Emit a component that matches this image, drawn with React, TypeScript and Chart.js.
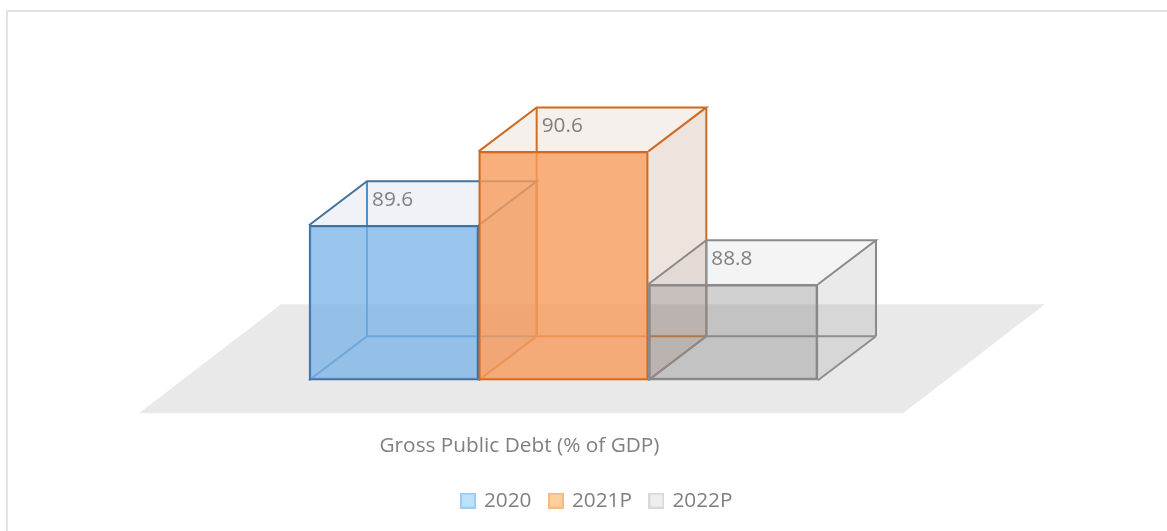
import React, { useEffect, useRef } from "react";
import { Chart, registerables } from "chart.js";

Chart.register(...registerables);

const categories = ["Gross Public Debt (% of GDP)"];
const seriesNames = ["2020", "2021P", "2022P"];
const values2020 = [89.6];
const values2021P = [90.6];
const values2022P = [88.8];
const AXIS_MIN = 87.5;
const AXIS_MAX = 91.5;

const FONT = '"Open Sans", sans-serif';
const FONT_SIZE = 20.8;
const TEXT = "#808080";
const DEPTH_X = 58;
const DEPTH_Y = 44;

const looks = [
  { front: "rgba(118,178,232,0.70)", tint: "rgba(120,150,180,0.12)", edge: "#44729f", backEdge: "#4f8fca", legendFill: "#bde3fb", legendEdge: "#9dcbf5" },
  { front: "rgba(250,158,92,0.78)", tint: "rgba(170,120,90,0.11)", edge: "#cf6a20", backEdge: "#cf6f28", legendFill: "#fcd09a", legendEdge: "#f9ba80" },
  { front: "rgba(130,130,130,0.30)", tint: "rgba(130,130,130,0.09)", edge: "#8a8a8a", backEdge: "#8f8f8f", legendFill: "#eeeeee", legendEdge: "#d8d8d8" },
];

const legendSwatch = (fill: string, edge: string) => {
  const c = document.createElement("canvas");
  c.width = 16;
  c.height = 16;
  const g = c.getContext("2d") as CanvasRenderingContext2D;
  g.fillStyle = fill;
  g.fillRect(0, 0, 16, 16);
  g.strokeStyle = edge;
  g.lineWidth = 2;
  g.strokeRect(1, 1, 14, 14);
  return c;
};

const poly = (ctx: CanvasRenderingContext2D, pts: number[][], fill?: string) => {
  ctx.beginPath();
  pts.forEach((p, i) => (i ? ctx.lineTo(p[0], p[1]) : ctx.moveTo(p[0], p[1])));
  ctx.closePath();
  if (fill) {
    ctx.fillStyle = fill;
    ctx.fill();
  }
};

const drawRear = (ctx: CanvasRenderingContext2D, bar: any, look: any) => {
  const l = bar.x - bar.width / 2;
  const r = bar.x + bar.width / 2;
  const t = bar.y;
  const f = bar.base;
  const dx = DEPTH_X;
  const dy = DEPTH_Y;
  ctx.save();
  poly(ctx, [[l, t], [l + dx, t - dy], [r + dx, t - dy], [r + dx, f - dy], [r, f], [l, f]], look.tint);
  poly(ctx, [[r, t], [r + dx, t - dy], [r + dx, f - dy], [r, f]], look.tint);
  ctx.strokeStyle = look.backEdge;
  ctx.lineWidth = 2;
  ctx.beginPath();
  ctx.moveTo(l + dx, t - dy);
  ctx.lineTo(l + dx, f - dy);
  ctx.lineTo(r + dx, f - dy);
  ctx.moveTo(l, f);
  ctx.lineTo(l + dx, f - dy);
  ctx.moveTo(r, f);
  ctx.lineTo(r + dx, f - dy);
  ctx.stroke();
  ctx.strokeStyle = look.edge;
  ctx.beginPath();
  ctx.moveTo(l, t);
  ctx.lineTo(l + dx, t - dy);
  ctx.lineTo(r + dx, t - dy);
  ctx.lineTo(r, t);
  ctx.moveTo(r + dx, t - dy);
  ctx.lineTo(r + dx, f - dy);
  ctx.stroke();
  ctx.restore();
};

const frame3d = {
  id: "frame3d",
  beforeDraw(chart: any) {
    const { ctx, width, height } = chart;
    ctx.save();
    ctx.strokeStyle = "#e3e3e3";
    ctx.lineWidth = 2;
    ctx.beginPath();
    ctx.moveTo(7, height);
    ctx.lineTo(7, 11);
    ctx.lineTo(width, 11);
    ctx.stroke();
    ctx.restore();
  },
  beforeDatasetsDraw(chart: any) {
    const { ctx, chartArea: a } = chart;
    const b = a.bottom;
    poly(ctx, [
      [a.left - 170, b + 33],
      [a.right + 85, b + 33],
      [a.right + 227, b - 76],
      [a.left - 28, b - 76],
    ], "#e9e9e9");
  },
  // Chart.js paints the last dataset first; here the first has to be at the back.
  beforeDatasetDraw() {
    return false;
  },
  afterDatasetsDraw(chart: any) {
    const { ctx } = chart;
    chart.data.datasets.forEach((_: any, i: number) => {
      const bar = chart.getDatasetMeta(i).data[0];
      drawRear(ctx, bar, looks[i]);
      bar.draw(ctx);
    });
    ctx.save();
    ctx.font = `${FONT_SIZE}px ${FONT}`;
    ctx.fillStyle = TEXT;
    ctx.textAlign = "left";
    ctx.textBaseline = "middle";
    chart.data.datasets.forEach((ds: any, i: number) => {
      const bar = chart.getDatasetMeta(i).data[0];
      ctx.fillText(ds.data[0].toFixed(1), bar.x - bar.width / 2 + 63, bar.y - 25);
    });
    ctx.restore();
  },
};

export default function App() {
  const ref = useRef<HTMLCanvasElement>(null);
  useEffect(() => {
    const chart = new Chart(ref.current as HTMLCanvasElement, {
      type: "bar",
      data: {
        labels: categories,
        datasets: [values2020, values2021P, values2022P].map((data, i) => ({
          label: seriesNames[i],
          data,
          base: AXIS_MIN,
          backgroundColor: looks[i].front,
          borderColor: looks[i].edge,
          borderWidth: 2,
          borderSkipped: false,
          categoryPercentage: 1,
          barPercentage: 1,
        })),
      } as any,
      options: {
        responsive: false,
        animation: false,
        layout: { padding: { left: 28, right: 0, top: 85, bottom: 10 } },
        scales: {
          x: {
            grid: { display: false },
            border: { display: false },
            afterFit: (s: any) => {
              s.height = 91;
              s.paddingLeft = 0;
              s.paddingRight = 0;
            },
            ticks: {
              color: TEXT,
              font: { family: FONT, size: FONT_SIZE },
              padding: 45,
              labelOffset: -44,
              maxRotation: 0,
              autoSkip: false,
            },
          },
          y: {
            min: AXIS_MIN,
            max: AXIS_MAX,
            grid: { display: false },
            border: { display: false },
            ticks: { display: false },
            afterFit: (s: any) => {
              s.width = 281;
            },
          },
          yRight: {
            position: "right",
            min: AXIS_MIN,
            max: AXIS_MAX,
            grid: { display: false },
            border: { display: false },
            ticks: { display: false },
            afterFit: (s: any) => {
              s.width = 349;
            },
          },
        },
        plugins: {
          title: { display: false },
          tooltip: { enabled: false },
          legend: {
            position: "bottom",
            labels: {
              color: TEXT,
              font: { family: FONT, size: FONT_SIZE },
              usePointStyle: true,
              pointStyleWidth: 11,
              boxHeight: 16,
              padding: 19,
              generateLabels: (c: any) =>
                c.data.datasets.map((ds: any, i: number) => ({
                  text: ds.label,
                  pointStyle: legendSwatch(looks[i].legendFill, looks[i].legendEdge),
                  fillStyle: looks[i].legendFill,
                  strokeStyle: looks[i].legendEdge,
                  lineWidth: 0,
                  fontColor: TEXT,
                  datasetIndex: i,
                  hidden: false,
                })),
            },
          },
        },
      } as any,
      plugins: [frame3d],
    });
    return () => chart.destroy();
  }, []);
  return (
    <div style={{ position: "fixed", left: 0, top: 0, width: 1167, height: 531, background: "#fff" }}>
      <canvas ref={ref} width={1167} height={531} style={{ display: "block" }} />
    </div>
  );
}
